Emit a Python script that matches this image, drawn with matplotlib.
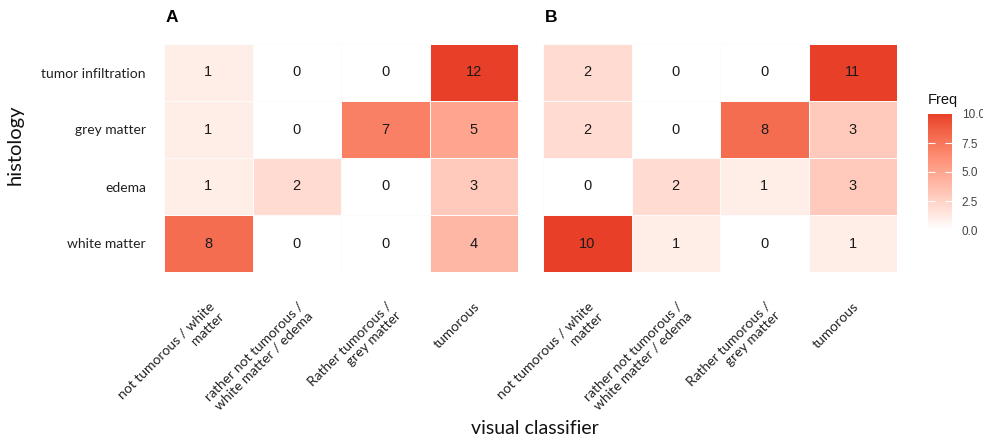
import numpy as np
import matplotlib
matplotlib.use("Agg")
import matplotlib.pyplot as plt
from matplotlib.colors import ListedColormap, Normalize

# categories
histology = ["tumor infiltration", "grey matter", "edema", "white matter"]
classifier = ["not tumorous / white\nmatter",
              "rather not tumorous /\nwhite matter / edema",
              "Rather tumorous /\ngrey matter",
              "tumorous"]

# frequencies, rows follow `histology` (top to bottom), columns follow `classifier`
freq_a = [[1, 0, 0, 12],
          [1, 0, 7, 5],
          [1, 2, 0, 3],
          [8, 0, 0, 4]]
freq_b = [[2, 0, 0, 11],
          [2, 0, 8, 3],
          [0, 2, 1, 3],
          [10, 1, 0, 1]]

panel_titles = ["A", "B"]
cbar_ticks = [0.0, 2.5, 5.0, 7.5, 10.0]


# white -> red gradient interpolated in CIELAB space
def srgb_to_lab(rgb):
    rgb = np.asarray(rgb, float)
    lin = np.where(rgb <= 0.04045, rgb / 12.92, ((rgb + 0.055) / 1.055) ** 2.4)
    m = np.array([[0.4124, 0.3576, 0.1805],
                  [0.2126, 0.7152, 0.0722],
                  [0.0193, 0.1192, 0.9505]])
    xyz = lin @ m.T / np.array([0.95047, 1.0, 1.08883])
    f = np.where(xyz > 0.008856, np.cbrt(xyz), 7.787 * xyz + 16 / 116)
    return np.stack([116 * f[..., 1] - 16,
                     500 * (f[..., 0] - f[..., 1]),
                     200 * (f[..., 1] - f[..., 2])], axis=-1)


def lab_to_srgb(lab):
    lab = np.asarray(lab, float)
    fy = (lab[..., 0] + 16) / 116
    fx = fy + lab[..., 1] / 500
    fz = fy - lab[..., 2] / 200
    f = np.stack([fx, fy, fz], axis=-1)
    xyz = np.where(f ** 3 > 0.008856, f ** 3, (f - 16 / 116) / 7.787)
    xyz = xyz * np.array([0.95047, 1.0, 1.08883])
    minv = np.array([[3.2406, -1.5372, -0.4986],
                     [-0.9689, 1.8758, 0.0415],
                     [0.0557, -0.2040, 1.0570]])
    lin = xyz @ minv.T
    rgb = np.where(lin <= 0.0031308, 12.92 * lin, 1.055 * np.clip(lin, 0, None) ** (1 / 2.4) - 0.055)
    return np.clip(rgb, 0, 1)


low = np.array([1.0, 1.0, 1.0])
high = np.array([232, 64, 40]) / 255
t = np.linspace(0, 1, 256)[:, None]
lab = srgb_to_lab(low) * (1 - t) + srgb_to_lab(high) * t
cmap = ListedColormap(lab_to_srgb(lab))
norm = Normalize(vmin=0, vmax=10, clip=True)

W, H = 983, 443
fig = plt.figure(figsize=(W / 100, H / 100), dpi=100)

label_font = ["Lato", "DejaVu Sans"]
num_font = ["Liberation Sans", "DejaVu Sans"]

axes_px = [(164, 44, 354, 228), (543, 44, 354, 228)]
mesh = None
for k, (data, title) in enumerate(zip([freq_a, freq_b], panel_titles)):
    x0, y0, w, h = axes_px[k]
    ax = fig.add_axes([x0 / W, 1 - (y0 + h) / H, w / W, h / H])
    arr = np.array(data, float)
    nr, nc = arr.shape
    mesh = ax.pcolormesh(np.arange(nc + 1), np.arange(nr + 1), arr[::-1],
                         cmap=cmap, norm=norm, edgecolors="#fbfbfb", linewidth=0.6)
    for i in range(nr):
        for j in range(nc):
            ax.text(j + 0.5, nr - i - 0.5, f"{int(data[i][j])}", ha="center", va="center",
                    fontsize=10.5, family=num_font, color="#1a1a1a")
    ax.set_xlim(0, nc)
    ax.set_ylim(0, nr)
    for s in ax.spines.values():
        s.set_visible(False)
    ax.set_xticks(np.arange(nc) + 0.5)
    ax.set_xticklabels(classifier, rotation=45, ha="right", va="top",
                       rotation_mode="anchor", multialignment="right",
                       fontsize=10, family=label_font, color="#222222")
    ax.tick_params(axis="both", length=0)
    ax.tick_params(axis="x", pad=20)
    ax.set_yticks(np.arange(nr) + 0.5)
    if k == 0:
        ax.set_yticklabels(histology[::-1], fontsize=10, family=label_font, color="#222222")
        ax.tick_params(axis="y", pad=13)
    else:
        ax.set_yticklabels([])
    fig.text((x0 + 2) / W, 1 - 18 / H, title, fontsize=12.5, fontweight="bold",
             family=num_font, ha="left", va="center")

fig.text(15 / W, 1 - 145 / H, "histology", rotation=90, ha="center", va="center",
         fontsize=14.5, family=label_font, color="#111111")
fig.text(535 / W, 1 - 428 / H, "visual classifier", ha="center", va="center",
         fontsize=14, family=label_font, color="#111111")

cax = fig.add_axes([928 / W, 1 - 230 / H, 24 / W, 116 / H])
cb = fig.colorbar(mesh, cax=cax, ticks=cbar_ticks)
cb.outline.set_visible(False)
cb.ax.set_yticklabels([f"{v:.1f}" for v in cbar_ticks], family=num_font,
                      fontsize=8.5, color="#444444")
cb.ax.tick_params(axis="y", direction="in", color="white", length=5, width=0.8, pad=7,
                  left=True, right=True)
# white tick marks only on the interior of the bar
for tk in (cb.ax.yaxis.get_major_ticks()[0], cb.ax.yaxis.get_major_ticks()[-1]):
    tk.tick1line.set_visible(False)
    tk.tick2line.set_visible(False)
fig.text(928 / W, 1 - 100 / H, "Freq", ha="left", va="center", fontsize=10.5,
         family=num_font, color="#111111")

fig.savefig("out.png", dpi=100)
